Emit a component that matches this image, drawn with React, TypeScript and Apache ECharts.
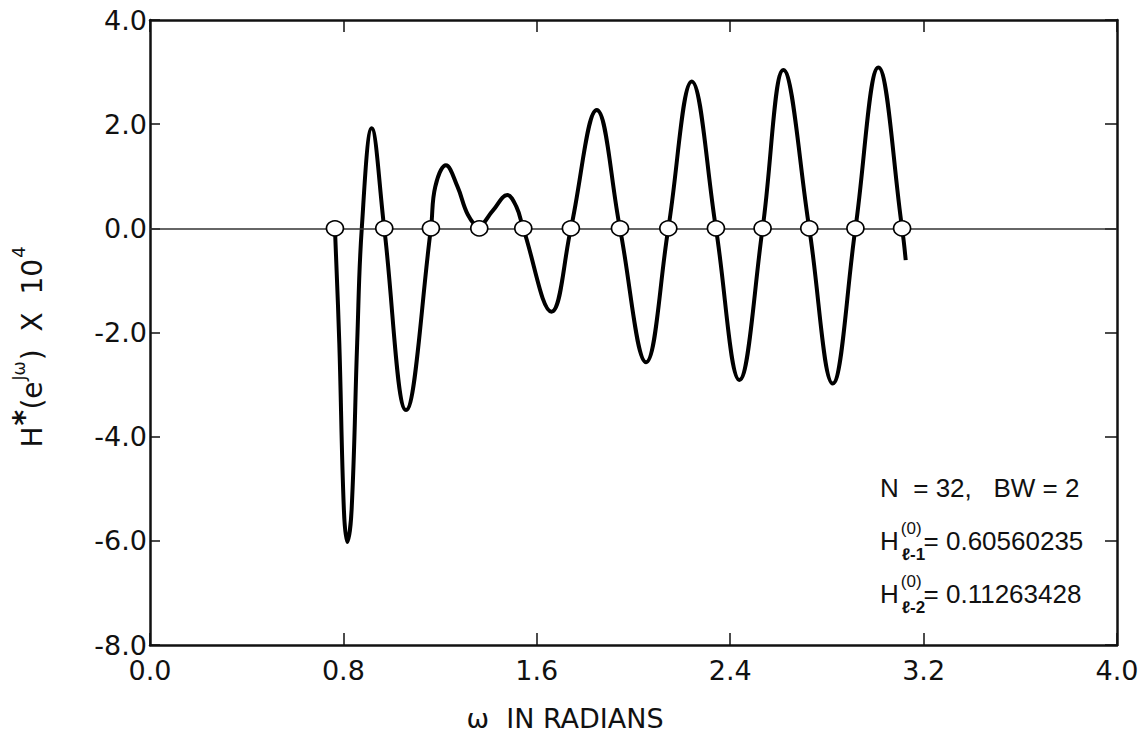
import React, { useEffect, useRef } from "react";
import * as echarts from "echarts";

// ---- data ----
const omega = [
  0.765, 0.783, 0.802, 0.816, 0.834, 0.857, 0.876, 0.917, 0.969, 1.059,
  1.162, 1.18, 1.224, 1.272, 1.315, 1.358, 1.418, 1.478, 1.515, 1.544,
  1.661, 1.741, 1.848, 1.944, 2.052, 2.144, 2.241, 2.341, 2.438, 2.534,
  2.62, 2.727, 2.824, 2.918, 3.013, 3.111, 3.126,
];
const hValue = [
  0, -2.2, -5.4, -6.02, -5.4, -2.2, 0, 1.92, 0, -3.49,
  0, 0.8, 1.21, 0.8, 0.26, 0.04, 0.34, 0.64, 0.42, 0,
  -1.6, 0, 2.27, 0, -2.57, 0, 2.82, 0, -2.91, 0,
  3.04, 0, -2.98, 0, 3.09, 0, -0.61,
];
const markerOmega = [
  0.765, 0.969, 1.162, 1.362, 1.544, 1.741, 1.944, 2.144, 2.341, 2.534, 2.727,
  2.918, 3.111,
];
const xTicks = { min: 0, max: 4, interval: 0.8 };
const yTicks = { min: -8, max: 4, interval: 2 };
const noteLine1 = "N  = 32,   BW = 2";
const noteValues = ["0.60560235", "0.11263428"];
const noteSubs = ["ℓ-1", "ℓ-2"];

const FONT = "DejaVu Sans";
const NOTE_FONT = "Liberation Sans";

function measure(text: string, size: number, family = FONT) {
  const c = document.createElement("canvas").getContext("2d")!;
  c.font = `${size}px "${family}"`;
  return c.measureText(text).width;
}

type Piece = { t: string; size: number; dy: number; gap?: number; bold?: boolean };

function sequence(pieces: Piece[], x0: number, y0: number) {
  const out: any[] = [];
  let x = x0;
  for (const p of pieces) {
    x += p.gap || 0;
    out.push({
      type: "text",
      x,
      y: y0 + p.dy,
      style: {
        text: p.t,
        font: `${p.bold ? "bold " : ""}${p.size}px "${FONT}"`,
        fill: "#111",
        verticalAlign: "middle",
        align: "left",
      },
    });
    x += measure(p.t, p.size);
  }
  return { els: out, width: x - x0 };
}

export default function App() {
  const ref = useRef<HTMLDivElement>(null);
  useEffect(() => {
    document.body.style.margin = "0";
    const chart = echarts.init(ref.current!, undefined, { renderer: "svg" });

    const axisLine = { show: true, onZero: false, lineStyle: { color: "#111", width: 2.5 } };
    const tickStyle = { color: "#111", width: 1.5 };
    const lbl = (v: number) => v.toFixed(1);

    // y axis title (rotated)
    const yTitle = sequence(
      [
        { t: "H", size: 28, dy: 0 },
        { t: "*", size: 30, dy: -9, gap: 1, bold: true },
        { t: "(e", size: 28, dy: 0, gap: 1 },
        { t: "Jω", size: 17, dy: -13, gap: 1 },
        { t: ")  X  10", size: 28, dy: 0, gap: 1 },
        { t: "4", size: 18, dy: -14, gap: 1 },
      ],
      0,
      0
    );
    const yTitleGroup = {
      type: "group",
      x: 32,
      y: 347 + yTitle.width / 2,
      rotation: Math.PI / 2,
      children: yTitle.els,
    };

    // annotation block
    const noteX = 880;
    const nf = (s: number, b = false) => `${b ? "bold " : ""}${s}px "${NOTE_FONT}"`;
    const notes: any[] = [
      {
        type: "text",
        x: noteX,
        y: 488,
        style: { text: noteLine1, font: nf(26), fill: "#111", verticalAlign: "middle" },
      },
    ];
    noteValues.forEach((val, i) => {
      const y = 541 + i * 53;
      const wH = measure("H", 26, NOTE_FONT);
      const wSup = Math.max(measure("(0)", 17, NOTE_FONT), measure(noteSubs[i], 17, NOTE_FONT));
      notes.push(
        { type: "text", x: noteX, y, style: { text: "H", font: nf(26), fill: "#111", verticalAlign: "middle" } },
        { type: "text", x: noteX + wH + 2, y: y - 13, style: { text: "(0)", font: nf(17), fill: "#111", verticalAlign: "middle" } },
        { type: "text", x: noteX + wH + 3, y: y + 13, style: { text: noteSubs[i], font: nf(17, true), fill: "#111", verticalAlign: "middle" } },
        { type: "text", x: noteX + wH + wSup + 4, y, style: { text: "= " + val, font: nf(26), fill: "#111", verticalAlign: "middle" } }
      );
    });

    chart.setOption({
      animation: false,
      backgroundColor: "#fff",
      grid: { left: 150, right: 25, top: 20, bottom: 97, containLabel: false },
      xAxis: [
        {
          type: "value",
          ...xTicks,
          position: "bottom",
          axisLine,
          axisTick: { show: true, inside: true, length: 12, lineStyle: tickStyle },
          axisLabel: { formatter: lbl, fontSize: 27, lineHeight: 22, fontFamily: FONT, color: "#111", margin: 14 },
          splitLine: { show: false },
        },
        {
          type: "value",
          ...xTicks,
          position: "top",
          axisLine,
          axisTick: { show: true, inside: true, length: 12, lineStyle: tickStyle },
          axisLabel: { show: false },
          splitLine: { show: false },
        },
      ],
      yAxis: [
        {
          type: "value",
          ...yTicks,
          position: "left",
          axisLine,
          axisTick: { show: true, inside: true, length: 10, lineStyle: tickStyle },
          axisLabel: { formatter: lbl, fontSize: 27, lineHeight: 22, fontFamily: FONT, color: "#111", margin: 3 },
          splitLine: { show: false },
        },
        {
          type: "value",
          ...yTicks,
          position: "right",
          axisLine,
          axisTick: { show: true, inside: true, length: 12, lineStyle: tickStyle },
          axisLabel: { show: false },
          splitLine: { show: false },
        },
      ],
      series: [
        {
          type: "line",
          data: [],
          z: 1,
          markLine: {
            silent: true,
            symbol: ["none", "none"],
            label: { show: false },
            lineStyle: { color: "#333", width: 1.5, type: "solid" },
            data: [{ yAxis: 0 }],
          },
        },
        {
          type: "line",
          data: omega.map((w, i) => [w, hValue[i]]),
          smooth: 0.4,
          showSymbol: false,
          lineStyle: { color: "#000", width: 4 },
          z: 3,
        },
        {
          type: "scatter",
          data: markerOmega.map((w) => [w, 0]),
          symbol: "circle",
          symbolSize: [17, 15],
          itemStyle: { color: "#fff", borderColor: "#000", borderWidth: 1.6, opacity: 1 },
          z: 5,
        },
      ],
      graphic: [
        {
          type: "text",
          x: 565,
          y: 718,
          style: {
            text: "ω  IN RADIANS",
            font: `27px "${FONT}"`,
            fill: "#111",
            align: "center",
            verticalAlign: "middle",
          },
        },
        yTitleGroup,
        ...notes,
      ],
    });
    return () => chart.dispose();
  }, []);
  return <div ref={ref} style={{ width: 1142, height: 742 }} />;
}
